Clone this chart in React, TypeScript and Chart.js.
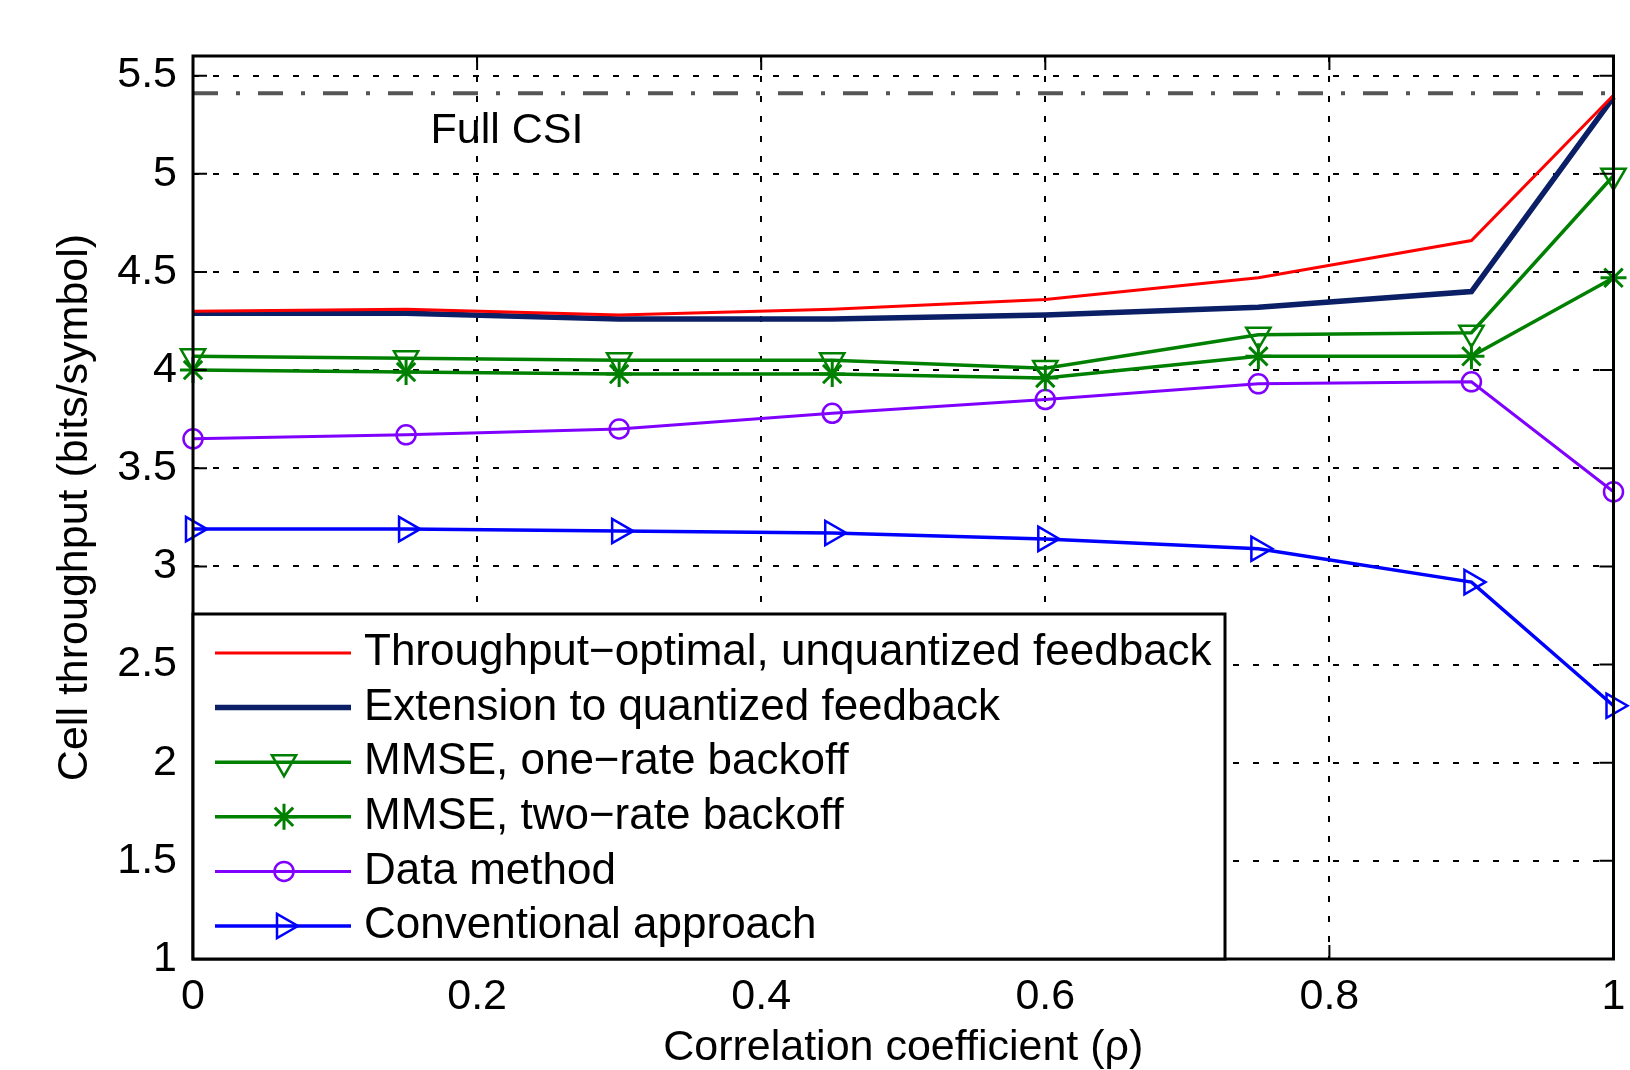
import React, { useEffect, useRef } from 'react';
import { Chart, registerables } from 'chart.js';
import { drawPoint } from 'chart.js/helpers';

Chart.register(...registerables);

// ---------------- data ----------------
const RHO = [0, 0.15, 0.3, 0.45, 0.6, 0.75, 0.9, 1.0];
const THROUGHPUT_OPTIMAL = [4.30, 4.31, 4.28, 4.31, 4.36, 4.47, 4.66, 5.40];
const EXTENSION_QUANTIZED = [4.29, 4.29, 4.26, 4.26, 4.28, 4.32, 4.40, 5.39];
const MMSE_ONE_RATE = [4.07, 4.06, 4.05, 4.05, 4.01, 4.18, 4.19, 4.99];
const MMSE_TWO_RATE = [4.00, 3.99, 3.98, 3.98, 3.96, 4.07, 4.07, 4.47];
const DATA_METHOD = [3.65, 3.67, 3.70, 3.78, 3.85, 3.93, 3.94, 3.38];
const CONVENTIONAL = [3.19, 3.19, 3.18, 3.17, 3.14, 3.09, 2.92, 2.29];

const FULL_CSI_X = [0, 1];
const FULL_CSI_Y = [5.41, 5.41];
const FULL_CSI_LABEL = 'Full CSI';
const FULL_CSI_TEXT_AT = [0.221, 5.215];

const X_TICKS = [0, 0.2, 0.4, 0.6, 0.8, 1];
const Y_TICKS = [1, 1.5, 2, 2.5, 3, 3.5, 4, 4.5, 5, 5.5];
const X_MIN = 0, X_MAX = 1, Y_MIN = 1, Y_MAX = 5.6;

const X_TITLE = 'Correlation coefficient (\u03c1)';
const Y_TITLE = 'Cell throughput (bits/symbol)';

const SERIES_LABELS = [
  'Throughput\u2212optimal, unquantized feedback',
  'Extension to quantized feedback',
  'MMSE, one\u2212rate backoff',
  'MMSE, two\u2212rate backoff',
  'Data method',
  'Conventional approach',
];

// ---------------- styling ----------------
const FONT_FAMILY = '"Liberation Sans", Arial, Helvetica, sans-serif';
const FONT_SIZE = 43;
const LEGEND_FONT_SIZE = 44;

const toPts = (xs: number[], ys: number[]) => xs.map((x, i) => ({ x, y: ys[i] }));

const marker = (style: string, rotation: number, radius: number, color: string, bw: number) => ({
  pointStyle: style,
  pointRotation: rotation,
  pointRadius: radius,
  pointHoverRadius: radius,
  pointBorderColor: color,
  pointBackgroundColor: 'rgba(0,0,0,0)',
  pointBorderWidth: bw,
});

const matlabPlugin = {
  id: 'matlabDecor',
  afterDatasetsDraw(chart: any) {
    const { ctx, chartArea: a, scales } = chart;
    const xs = scales.x;
    const ys = scales.y;
    ctx.save();

    // annotation text
    ctx.font = `${FONT_SIZE}px ${FONT_FAMILY}`;
    ctx.fillStyle = '#000';
    ctx.textAlign = 'center';
    ctx.textBaseline = 'middle';
    ctx.fillText(FULL_CSI_LABEL, xs.getPixelForValue(FULL_CSI_TEXT_AT[0]), ys.getPixelForValue(FULL_CSI_TEXT_AT[1]));

    // inward tick marks on all four sides
    const TL = 14;
    ctx.setLineDash([]);
    ctx.strokeStyle = '#000';
    ctx.lineWidth = 2;
    ctx.beginPath();
    for (const t of X_TICKS) {
      const px = xs.getPixelForValue(t);
      ctx.moveTo(px, a.bottom); ctx.lineTo(px, a.bottom - TL);
      ctx.moveTo(px, a.top); ctx.lineTo(px, a.top + TL);
    }
    for (const t of Y_TICKS) {
      const py = ys.getPixelForValue(t);
      ctx.moveTo(a.left, py); ctx.lineTo(a.left + TL, py);
      ctx.moveTo(a.right, py); ctx.lineTo(a.right - TL, py);
    }
    ctx.stroke();

    // axes box
    ctx.lineWidth = 3;
    ctx.strokeRect(a.left, a.top, a.right - a.left, a.bottom - a.top);

    // legend (bottom-left, inside the axes)
    const legendW = 1032;
    const legendH = 345;
    const lx = a.left;
    const ly = a.bottom - legendH;
    ctx.fillStyle = '#fff';
    ctx.fillRect(lx, ly, legendW, legendH);
    ctx.lineWidth = 3;
    ctx.strokeStyle = '#000';
    ctx.strokeRect(lx, ly, legendW, legendH);

    const items = chart.data.datasets.filter((d: any) => !d.noLegend);
    const rowH = 54.6;
    items.forEach((d: any, i: number) => {
      const cy = ly + 39 + i * rowH;
      ctx.setLineDash([]);
      ctx.strokeStyle = d.borderColor;
      ctx.lineWidth = d.borderWidth;
      ctx.beginPath();
      ctx.moveTo(lx + 22, cy);
      ctx.lineTo(lx + 158, cy);
      ctx.stroke();
      if (d.pointRadius > 0) {
        ctx.strokeStyle = d.pointBorderColor;
        ctx.fillStyle = 'rgba(0,0,0,0)';
        ctx.lineWidth = d.pointBorderWidth;
        drawPoint(ctx, {
          pointStyle: d.pointStyle,
          rotation: d.pointRotation || 0,
          radius: d.pointRadius,
          borderWidth: d.pointBorderWidth,
        }, lx + 91, cy);
      }
      ctx.fillStyle = '#000';
      ctx.font = `${LEGEND_FONT_SIZE}px ${FONT_FAMILY}`;
      ctx.textAlign = 'left';
      ctx.textBaseline = 'middle';
      ctx.fillText(d.label, lx + 171, cy);
    });

    ctx.restore();
  },
};

export default function App() {
  const ref = useRef<HTMLCanvasElement | null>(null);

  useEffect(() => {
    const canvas = ref.current;
    if (!canvas) return;
    Chart.defaults.font.family = FONT_FAMILY;
    Chart.defaults.font.size = FONT_SIZE;
    Chart.defaults.color = '#000';

    const chart = new Chart(canvas, {
      type: 'line',
      data: {
        datasets: [
          {
            label: 'Full CSI',
            noLegend: true,
            data: toPts(FULL_CSI_X, FULL_CSI_Y),
            borderColor: '#555555',
            borderWidth: 4,
            borderDash: [25, 18, 4, 18],
            pointRadius: 0,
            clip: false,
          } as any,
          {
            label: SERIES_LABELS[0],
            data: toPts(RHO, THROUGHPUT_OPTIMAL),
            borderColor: '#ff0000',
            borderWidth: 3,
            pointRadius: 0,
            clip: false,
          },
          {
            label: SERIES_LABELS[1],
            data: toPts(RHO, EXTENSION_QUANTIZED),
            borderColor: '#0b1f66',
            borderWidth: 5.5,
            pointRadius: 0,
            clip: false,
          },
          {
            label: SERIES_LABELS[2],
            data: toPts(RHO, MMSE_ONE_RATE),
            borderColor: '#008000',
            borderWidth: 3.5,
            ...marker('triangle', 180, 14, '#008000', 2.5),
            clip: false,
          },
          {
            label: SERIES_LABELS[3],
            data: toPts(RHO, MMSE_TWO_RATE),
            borderColor: '#008000',
            borderWidth: 3.5,
            ...marker('star', 0, 13, '#008000', 3),
            clip: false,
          },
          {
            label: SERIES_LABELS[4],
            data: toPts(RHO, DATA_METHOD),
            borderColor: '#7f00ff',
            borderWidth: 3,
            ...marker('circle', 0, 9.5, '#7f00ff', 2.5),
            clip: false,
          },
          {
            label: SERIES_LABELS[5],
            data: toPts(RHO, CONVENTIONAL),
            borderColor: '#0000ff',
            borderWidth: 3.5,
            ...marker('triangle', 90, 14, '#0000ff', 2.5),
            clip: false,
          },
        ] as any,
      },
      options: {
        animation: false,
        responsive: false,
        devicePixelRatio: 1,
        layout: { padding: { left: 0, top: 56, right: 16, bottom: 0 } },
        plugins: {
          legend: { display: false },
          tooltip: { enabled: false },
        },
        elements: { line: { tension: 0 } },
        scales: {
          x: {
            type: 'linear',
            min: X_MIN,
            max: X_MAX,
            afterBuildTicks: (s: any) => { s.ticks = X_TICKS.map((v) => ({ value: v })); },
            afterFit: (s: any) => { s.height = 111; s.paddingRight = 0; s.paddingLeft = 0; },
            ticks: {
              callback: (v: any) => String(v),
              padding: 17,
              maxRotation: 0,
              autoSkip: false,
              font: { size: FONT_SIZE, lineHeight: 1 },
              color: '#000',
            },
            grid: { color: '#000', lineWidth: 2, drawTicks: false },
            border: { display: false, dash: [6, 14] },
            title: {
              display: true,
              text: X_TITLE,
              font: { size: FONT_SIZE, lineHeight: 1 },
              color: '#000',
              padding: { top: 0, bottom: 0.5 },
            },
          },
          y: {
            type: 'linear',
            min: Y_MIN,
            max: Y_MAX,
            afterBuildTicks: (s: any) => { s.ticks = Y_TICKS.map((v) => ({ value: v })); },
            afterFit: (s: any) => { s.width = 193; s.paddingTop = 0; s.paddingBottom = 0; },
            ticks: {
              callback: (v: any) => String(v),
              padding: 16,
              autoSkip: false,
              font: { size: FONT_SIZE, lineHeight: 1 },
              color: '#000',
            },
            grid: { color: '#000', lineWidth: 2, drawTicks: false },
            border: { display: false, dash: [6, 14] },
            title: {
              display: true,
              text: Y_TITLE,
              font: { size: FONT_SIZE, lineHeight: 1 },
              color: '#000',
              padding: { top: 53.5, bottom: 0 },
            },
          },
        },
      } as any,
      plugins: [matlabPlugin],
    });

    return () => chart.destroy();
  }, []);

  return (
    <div style={{ position: 'absolute', left: 0, top: 0, width: 1630, height: 1070, background: '#fff' }}>
      <canvas ref={ref} width={1630} height={1070} style={{ display: 'block' }} />
    </div>
  );
}
